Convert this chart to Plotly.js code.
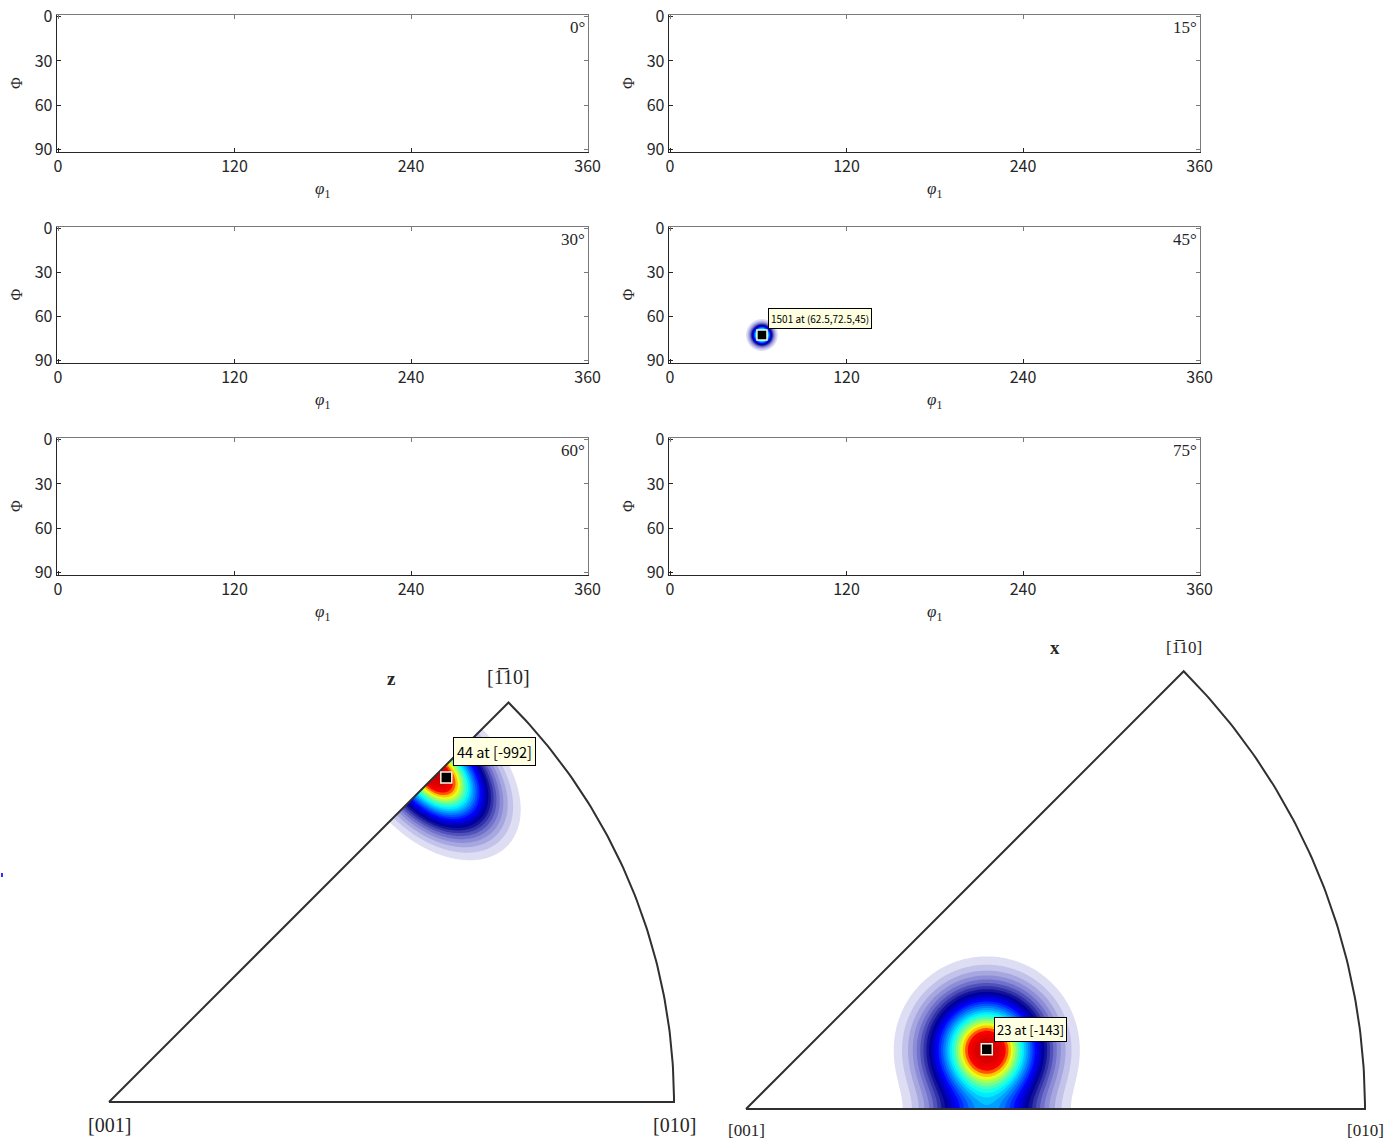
<!DOCTYPE html>
<html>
<head>
<meta charset="utf-8">
<script src="https://cdn.plot.ly/plotly-3.0.1.min.js"></script>
<style>html,body{margin:0;padding:0;background:#fff;}</style>
</head>
<body>
<div id="chart" style="width:1399px;height:1140px;"></div>
<script>
// ---------------- data ----------------
const sectionPhi2 = [0, 15, 30, 45, 60, 75];        // phi2 of each ODF section
const phi1Ticks = [0, 120, 240, 360];
const PhiTicks = [0, 30, 60, 90];
const odfPeakPhi1 = [62.5];
const odfPeakPhi = [72.5];
const odfPeakPhi2 = [45];
const odfPeakValue = [1501];
const odfKernelDeg = [4.4];                          // kernel half width (deg)

const ipfAxisName = ['z', 'x'];
const ipfPeakValue = [44, 23];
const ipfPeakDir = ['[-992]', '[-143]'];
const ipfPeakX = [0.597, 0.389];                     // projected coords (unit radius)
const ipfPeakY = [0.5745, 0.0964];
// kernel components of the inverse pole figure densities (mirrored across the nearest sector edge)
const ipfCompPlot = [0, 1];
const ipfCompX = [0.5895, 0.389];
const ipfCompY = [0.5670, 0.0964];
const ipfCompEdgeDeg = [45, 0];
const ipfCompSigmaAlong = [0.0475, 0.0614];
const ipfCompSigmaAcross = [0.071, 0.0614];

// ---------------- layout helpers ----------------
const W = 1399, H = 1140;
const colX = [[56.7, 588.3], [668.7, 1200.3]];
const rowY = [[15, 151.7], [226.5, 363.2], [438, 574.7]];
const ipfGeom = [   // pixel centre of [001], radius, pixel domain
  {cx: 109, cy: 1102, R: 565, dom: [40, 720, 640, 1140], lblSize: 20},
  {cx: 746, cy: 1109, R: 619, dom: [725, 1399, 628, 1140], lblSize: 17}
];
const tickFont = {family: 'Noto Sans CJK JP, Noto Sans, sans-serif', size: 16, color: '#262626'};
const serif = 'Liberation Serif, Times New Roman, serif';
const darkLine = '#262626', lightLine = '#7a7a7a';

const whiteJet = [
  [0, 'rgba(255,255,255,0)'],
  [0.045, 'rgba(255,255,255,0)'],
  [0.06, 'rgb(226,226,245)'],
  [0.19, 'rgb(122,122,208)'],
  [0.32, 'rgb(0,0,143)'],
  [0.43, 'rgb(0,0,255)'],
  [0.54, 'rgb(0,128,255)'],
  [0.65, 'rgb(0,255,255)'],
  [0.74, 'rgb(128,255,128)'],
  [0.815, 'rgb(255,255,0)'],
  [0.855, 'rgb(255,128,0)'],
  [0.89, 'rgb(255,0,0)'],
  [1, 'rgb(200,0,0)']
];

function range(a, b, step) { const r = []; for (let v = a; v <= b + 1e-9; v += step) r.push(+v.toFixed(5)); return r; }

function contourTrace(xs, ys, raw, peak, xa, ya) {
  let m = 0; raw.forEach(row => row.forEach(v => { if (v > m) m = v; }));
  const z = raw.map(row => row.map(v => v / m * peak));
  const N = 30;
  return {type: 'contour', x: xs, y: ys, z: z, xaxis: xa, yaxis: ya,
    autocontour: false,
    contours: {coloring: 'fill', showlines: false, start: peak * 0.5 / N, end: peak * (1 - 0.5 / N), size: peak / N},
    line: {width: 0, smoothing: 0}, colorscale: whiteJet, showscale: false, hoverinfo: 'skip'};
}

const traces = [];
const layout = {width: W, height: H, margin: {l: 0, r: 0, t: 0, b: 0}, paper_bgcolor: '#fff',
  plot_bgcolor: 'rgba(0,0,0,0)', showlegend: false, annotations: [], shapes: []};

// ---------------- ODF sections ----------------
sectionPhi2.forEach((p2, i) => {
  const k = i + 1, r = Math.floor(i / 2), c = i % 2, kk = k + 10;
  const xdom = [colX[c][0] / W, colX[c][1] / W], ydom = [1 - rowY[r][1] / H, 1 - rowY[r][0] / H];
  const common = {ticks: 'inside', ticklen: 4, tickwidth: 1, showline: true, linewidth: 1, mirror: false,
    showgrid: false, zeroline: false, fixedrange: true};
  layout['xaxis' + k] = Object.assign({domain: xdom, range: [-0.9, 360.5], anchor: 'y' + k, tickvals: phi1Ticks,
    tickcolor: darkLine, linecolor: darkLine, tickfont: tickFont}, common);
  layout['yaxis' + k] = Object.assign({domain: ydom, range: [91.6, -1.15], anchor: 'x' + k, tickvals: PhiTicks,
    tickcolor: darkLine, linecolor: darkLine, tickfont: tickFont}, common);
  // lighter top / right frame
  layout['xaxis' + kk] = Object.assign({domain: xdom, range: [-0.9, 360.5], anchor: 'y' + k, overlaying: 'x' + k,
    side: 'top', tickvals: phi1Ticks, showticklabels: false, tickcolor: lightLine, linecolor: lightLine}, common);
  layout['yaxis' + kk] = Object.assign({domain: ydom, range: [91.6, -1.15], anchor: 'x' + k, overlaying: 'y' + k,
    side: 'right', tickvals: PhiTicks, showticklabels: false, tickcolor: lightLine, linecolor: lightLine}, common);
  traces.push({type: 'scatter', x: [], y: [], xaxis: 'x' + k, yaxis: 'y' + k, hoverinfo: 'skip'});
  traces.push({type: 'scatter', x: [], y: [], xaxis: 'x' + kk, yaxis: 'y' + k, hoverinfo: 'skip'});
  traces.push({type: 'scatter', x: [], y: [], xaxis: 'x' + k, yaxis: 'y' + kk, hoverinfo: 'skip'});
  layout.annotations.push(
    {xref: 'x' + k + ' domain', yref: 'y' + k + ' domain', x: 1, y: 1, xanchor: 'right', yanchor: 'top',
     xshift: -1, yshift: -1, showarrow: false, text: p2 + '°', font: {family: serif, size: 17, color: '#262626'}},
    {xref: 'x' + k + ' domain', yref: 'y' + k + ' domain', x: 0.5, y: 0, xanchor: 'center', yanchor: 'middle', yshift: -38,
     showarrow: false, text: '<i>φ</i><sub>1</sub>', font: {family: serif, size: 17, color: '#262626'}},
    {xref: 'x' + k + ' domain', yref: 'y' + k + ' domain', x: 0, y: 0.5, xanchor: 'center', yanchor: 'middle', xshift: -40,
     showarrow: false, textangle: -90, text: 'Φ', font: {family: serif, size: 16, color: '#262626'}}
  );
});

// ODF peak density
odfPeakPhi2.forEach((p2, j) => {
  const k = sectionPhi2.indexOf(p2) + 1;
  const s = odfKernelDeg[j];
  const xs = range(odfPeakPhi1[j] - 4 * s, odfPeakPhi1[j] + 4 * s, 0.4);
  const ys = range(odfPeakPhi[j] - 4 * s, Math.min(90, odfPeakPhi[j] + 4 * s), 0.4);
  const raw = ys.map(y => xs.map(x => Math.exp(-((x - odfPeakPhi1[j]) ** 2 + (y - odfPeakPhi[j]) ** 2) / (2 * s * s))));
  traces.unshift(contourTrace(xs, ys, raw, odfPeakValue[j], 'x' + k, 'y' + k));
  traces.push({type: 'scatter', mode: 'markers', x: [odfPeakPhi1[j]], y: [odfPeakPhi[j]], xaxis: 'x' + k, yaxis: 'y' + k,
    marker: {symbol: 'square', size: 10, color: '#000', line: {color: '#f4f4e4', width: 1.5}}, hoverinfo: 'skip'});
  layout.annotations.push({xref: 'x' + k, yref: 'y' + k, x: odfPeakPhi1[j], y: odfPeakPhi[j], xanchor: 'left', yanchor: 'bottom',
    xshift: 6, yshift: 6, showarrow: false, text: odfPeakValue[j] + ' at (' + odfPeakPhi1[j] + ',' + odfPeakPhi[j] + ',' + p2 + ')',
    bgcolor: '#ffffe1', bordercolor: '#000', borderwidth: 1, borderpad: 2,
    font: {family: 'Noto Sans CJK JP, sans-serif', size: 10, color: '#000'}});
});

// ---------------- inverse pole figures ----------------
const arc = range(0, 45, 0.5).map(a => [Math.cos(a * Math.PI / 180), Math.sin(a * Math.PI / 180)]);
const ipfMasks = [], ipfLines = [], ipfMarks = [];
ipfGeom.forEach((g, p) => {
  const xa = 'x' + (7 + p), ya = 'y' + (7 + p);
  const xr = [(g.dom[0] - g.cx) / g.R, (g.dom[1] - g.cx) / g.R];
  const yr = [(g.cy - g.dom[3]) / g.R, (g.cy - g.dom[2]) / g.R];
  layout['xaxis' + (7 + p)] = {domain: [g.dom[0] / W, g.dom[1] / W], range: xr, visible: false, anchor: ya, fixedrange: true};
  layout['yaxis' + (7 + p)] = {domain: [1 - g.dom[3] / H, 1 - g.dom[2] / H], range: yr, visible: false, anchor: xa, fixedrange: true};

  // density from kernel components and their mirror images across the sector edge
  const comps = ipfCompPlot.map((pp, i) => i).filter(i => ipfCompPlot[i] === p);
  let x0 = 1e9, x1 = -1e9, y0 = 1e9, y1 = -1e9;
  comps.forEach(i => { const s = Math.max(ipfCompSigmaAlong[i], ipfCompSigmaAcross[i]);
    x0 = Math.min(x0, ipfCompX[i] - 4 * s); x1 = Math.max(x1, ipfCompX[i] + 4 * s);
    y0 = Math.min(y0, ipfCompY[i] - 4 * s); y1 = Math.max(y1, ipfCompY[i] + 4 * s); });
  y0 = Math.max(y0, -0.01);
  const xs = range(x0, x1, 0.002), ys = range(y0, y1, 0.002);
  const raw = ys.map(y => xs.map(x => {
    let v = 0;
    comps.forEach(i => {
      const t = ipfCompEdgeDeg[i] * Math.PI / 180, ct = Math.cos(t), st = Math.sin(t);
      const u = x * ct + y * st, w = x * st - y * ct;
      const u0 = ipfCompX[i] * ct + ipfCompY[i] * st, w0 = ipfCompX[i] * st - ipfCompY[i] * ct;
      const sa = ipfCompSigmaAlong[i], sb = ipfCompSigmaAcross[i];
      const du = (u - u0) / sa;
      v += Math.exp(-0.5 * (du * du + ((w - w0) / sb) ** 2)) + Math.exp(-0.5 * (du * du + ((w + w0) / sb) ** 2));
    });
    return v;
  }));
  traces.unshift(contourTrace(xs, ys, raw, ipfPeakValue[p], xa, ya));

  // white mask outside the fundamental sector
  const mx = [0, xr[0], xr[0], xr[1], xr[1], xr[0], 0, 1], my = [0, yr[0], yr[1], yr[1], yr[0], yr[0], 0, 0];
  arc.forEach(q => { mx.push(q[0]); my.push(q[1]); });
  mx.push(0); my.push(0);
  ipfMasks.push({type: 'scatter', mode: 'lines', x: mx, y: my, xaxis: xa, yaxis: ya, fill: 'toself',
    fillcolor: '#ffffff', line: {width: 0, color: 'rgba(0,0,0,0)'}, hoverinfo: 'skip'});

  // sector boundary
  const bx = [0, 1], by = [0, 0];
  arc.forEach(q => { bx.push(q[0]); by.push(q[1]); });
  bx.push(0); by.push(0);
  ipfLines.push({type: 'scatter', mode: 'lines', x: bx, y: by, xaxis: xa, yaxis: ya,
    line: {color: '#303030', width: 2}, hoverinfo: 'skip', cliponaxis: false});

  ipfMarks.push({type: 'scatter', mode: 'markers', x: [ipfPeakX[p]], y: [ipfPeakY[p]], xaxis: xa, yaxis: ya,
    marker: {symbol: 'square', size: 11, color: '#000', line: {color: '#f4f4e4', width: 1.5}}, hoverinfo: 'skip'});
  layout.annotations.push({xref: xa, yref: ya, x: ipfPeakX[p], y: ipfPeakY[p], xanchor: 'left', yanchor: 'bottom',
    xshift: 7, yshift: p === 0 ? 11 : 7, showarrow: false, text: ipfPeakValue[p] + ' at ' + ipfPeakDir[p],
    bgcolor: '#ffffe1', bordercolor: '#000', borderwidth: 1, borderpad: p === 0 ? 3 : 2,
    font: {family: 'Noto Sans CJK JP, sans-serif', size: p === 0 ? 14.5 : 13, color: '#000'}});

  // corner labels
  const lf = {family: serif, size: g.lblSize, color: '#262626'};
  const c45 = Math.SQRT1_2;
  layout.annotations.push(
    {xref: xa, yref: ya, x: 0, y: 0, xanchor: 'center', yanchor: 'top', yshift: -10, showarrow: false, text: '[001]', font: lf},
    {xref: xa, yref: ya, x: 1, y: 0, xanchor: 'center', yanchor: 'top', yshift: -10, showarrow: false, text: '[010]', font: lf},
    {xref: xa, yref: ya, x: c45, y: c45, xanchor: 'center', yanchor: 'bottom', yshift: 12, showarrow: false,
     text: '[1\u0305' + '10]', font: lf}
  );
});
traces.push(...ipfMasks, ...ipfLines, ...ipfMarks);

// IPF specimen-direction labels
layout.annotations.push(
  {xref: 'paper', yref: 'paper', x: 391 / W, y: 1 - 678 / H, xanchor: 'center', yanchor: 'middle', showarrow: false,
   text: '<b>' + ipfAxisName[0] + '</b>', font: {family: serif, size: 19, color: '#262626'}},
  {xref: 'paper', yref: 'paper', x: 1055 / W, y: 1 - 647 / H, xanchor: 'center', yanchor: 'middle', showarrow: false,
   text: '<b>' + ipfAxisName[1] + '</b>', font: {family: serif, size: 19, color: '#262626'}}
);
// small blue mark at the left border
layout.shapes.push({type: 'rect', xref: 'paper', yref: 'paper', x0: 1 / W, x1: 3 / W, y0: 1 - 877 / H, y1: 1 - 873 / H,
  fillcolor: '#3030ff', line: {width: 0}});

Plotly.newPlot('chart', traces, layout, {staticPlot: true, displayModeBar: false});
</script>
</body>
</html>
